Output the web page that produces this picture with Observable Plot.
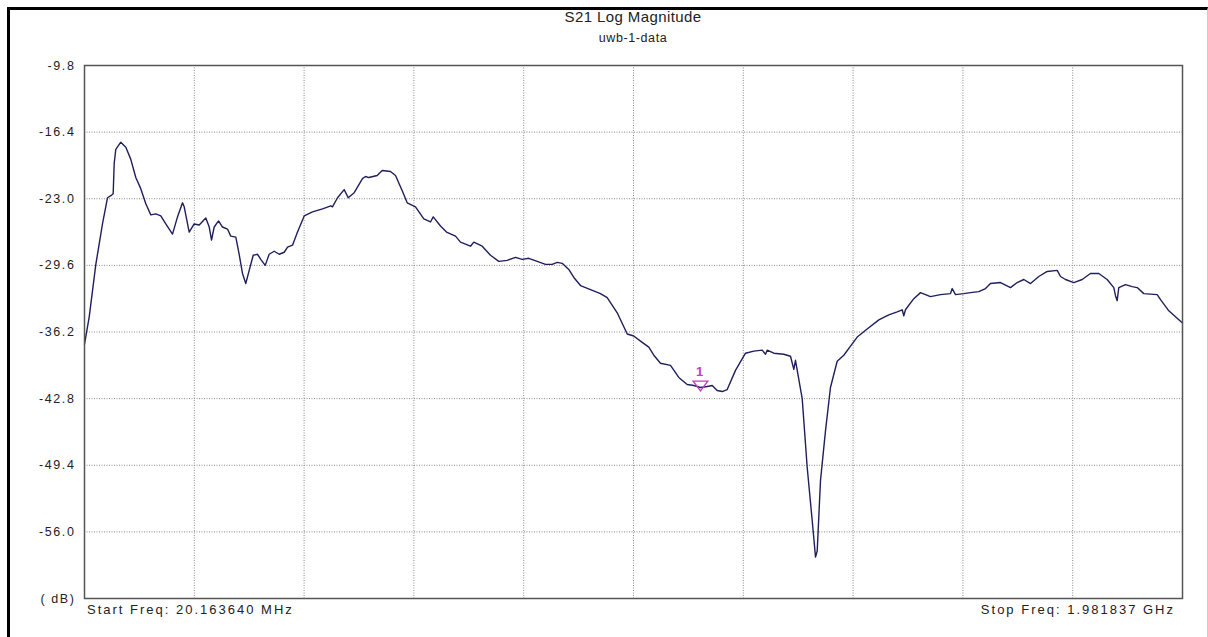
<!DOCTYPE html>
<html>
<head>
<meta charset="utf-8">
<script src="https://cdn.jsdelivr.net/npm/d3@7"></script>
<script src="https://cdn.jsdelivr.net/npm/@observablehq/plot@0.6"></script>
<style>
  html, body { margin: 0; padding: 0; background: #fff; }
  #page { position: relative; width: 1208px; height: 637px; overflow: hidden; font-family: "Liberation Sans", Arial, sans-serif; color: #222; }
  #window { position: absolute; left: 7px; top: 7px; right: 0; bottom: -5px; border-left: 3px solid #000; border-top: 3px solid #000; border-right: 1px solid #ccc; box-sizing: border-box; }
  .title { position: absolute; left: 84px; width: 1098px; text-align: center; white-space: nowrap; }
  #t1 { top: 8px; font-size: 15px; letter-spacing: 0.4px; }
  #t2 { top: 31px; font-size: 12.5px; letter-spacing: 0.6px; }
  #chart { position: absolute; left: 0; top: 50px; }
  .freq { position: absolute; top: 602px; font-size: 13px; letter-spacing: 2px; white-space: nowrap; }
  #start { left: 87px; }
  #stop { right: 33px; }
</style>
</head>
<body>
<div id="page">
  <div id="window"></div>
  <div class="title" id="t1">S21 Log Magnitude</div>
  <div class="title" id="t2">uwb-1-data</div>
  <div id="chart"></div>
  <div class="freq" id="start">Start Freq: 20.163640 MHz</div>
  <div class="freq" id="stop">Stop Freq: 1.981837 GHz</div>
</div>
<script>
// Sweep limits (MHz) and reference scale (dB)
const startFreq = 20.16364;
const stopFreq = 1981.837;
const yTicks = [-9.8, -16.4, -23.0, -29.6, -36.2, -42.8, -49.4, -56.0, -62.6];

// S21 trace: frequency (MHz) and magnitude (dB)
const freqMHz = [
  20.2, 28.6, 40.4, 52.3, 61.3, 67.2, 71.4, 73.2, 76.1, 85.0,
  94.0, 102.9, 111.8, 120.7, 129.7, 138.6, 147.5, 156.5, 165.4, 177.4,
  186.3, 195.3, 198.3, 207.2, 216.1, 225.1, 236.9, 243.0, 247.1, 251.9,
  259.6, 266.7, 275.6, 281.5, 290.5, 296.5, 302.4, 308.3, 314.4, 321.6,
  329.3, 335.1, 343.0, 350.1, 359.1, 368.0, 377.0, 382.9, 391.8, 400.7,
  412.7, 427.5, 445.4, 460.2, 463.2, 472.2, 484.1, 491.3, 502.0, 516.8,
  522.2, 528.1, 543.1, 552.0, 566.9, 575.8, 587.8, 596.7, 611.5, 626.4,
  638.3, 643.2, 656.2, 666.9, 683.0, 691.9, 709.8, 715.7, 730.7, 745.5,
  760.4, 775.4, 790.2, 802.2, 813.9, 828.9, 843.8, 855.7, 864.7, 873.6,
  885.4, 894.4, 906.3, 924.2, 942.0, 954.0, 971.9, 989.8, 1001.5, 1013.5,
  1028.3, 1037.3, 1049.2, 1067.1, 1081.9, 1096.9, 1108.8, 1120.7, 1132.7, 1141.6,
  1150.5, 1159.5, 1168.4, 1183.2, 1201.1, 1216.0, 1231.0, 1236.8, 1239.9, 1251.7,
  1269.5, 1281.5, 1287.4, 1290.4, 1302.4, 1311.3, 1320.3, 1326.2, 1329.2, 1335.1,
  1344.0, 1352.9, 1364.9, 1376.7, 1388.7, 1400.7, 1418.5, 1439.3, 1457.1, 1472.1,
  1481.1, 1483.9, 1486.9, 1501.8, 1513.8, 1531.6, 1549.5, 1567.3, 1570.4, 1576.3,
  1591.1, 1603.1, 1617.9, 1629.9, 1638.8, 1656.7, 1674.6, 1686.5, 1698.3, 1710.3,
  1725.1, 1740.1, 1758.0, 1763.9, 1772.8, 1787.6, 1802.6, 1817.4, 1832.3, 1847.2,
  1859.1, 1862.1, 1865.1, 1868.0, 1880.0, 1891.9, 1900.9, 1912.7, 1936.6, 1942.6,
  1957.4, 1981.8
];
const s21dB = [
  -37.4, -34.7, -29.5, -25.5, -22.9, -22.7, -22.5, -19.5, -18.1, -17.4,
  -17.9, -19.1, -20.9, -22.0, -23.5, -24.6, -24.5, -24.7, -25.5, -26.5,
  -24.8, -23.4, -23.8, -26.3, -25.5, -25.6, -24.9, -25.8, -27.1, -25.8,
  -25.2, -25.8, -26.0, -26.7, -26.8, -28.5, -30.4, -31.4, -30.1, -28.6,
  -28.5, -29.0, -29.6, -28.5, -28.2, -28.5, -28.3, -27.8, -27.6, -26.3,
  -24.7, -24.3, -24.0, -23.7, -23.8, -22.9, -22.1, -22.9, -22.4, -21.0,
  -20.8, -20.9, -20.7, -20.2, -20.3, -20.7, -22.2, -23.4, -23.8, -25.0,
  -25.3, -24.8, -25.7, -26.3, -26.7, -27.3, -27.7, -27.3, -27.7, -28.6,
  -29.2, -29.1, -28.8, -29.0, -28.9, -29.2, -29.5, -29.5, -29.3, -29.4,
  -30.0, -30.8, -31.6, -32.0, -32.4, -32.8, -34.3, -36.4, -36.6, -37.1,
  -37.7, -38.5, -39.3, -39.5, -40.7, -41.4, -41.5, -41.7, -41.6, -41.5,
  -42.0, -42.1, -41.9, -40.0, -38.3, -38.1, -38.0, -38.4, -38.0, -38.3,
  -38.4, -38.6, -39.9, -39.0, -42.8, -49.6, -54.9, -58.5, -57.9, -50.9,
  -46.0, -41.7, -39.1, -38.5, -37.6, -36.7, -35.9, -35.0, -34.5, -34.2,
  -34.0, -34.6, -34.0, -32.9, -32.3, -32.7, -32.5, -32.4, -31.9, -32.5,
  -32.4, -32.3, -32.2, -31.9, -31.4, -31.3, -31.8, -31.3, -31.0, -31.4,
  -30.7, -30.2, -30.1, -30.7, -31.0, -31.3, -31.0, -30.4, -30.4, -31.0,
  -31.8, -32.6, -33.1, -31.8, -31.5, -31.7, -31.8, -32.4, -32.5, -33.0,
  -34.1, -35.3
];

// Marker 1
const markerLabels = ["1"];
const markerFreq = [1120.7];
const markerdB = [-41.7];

const trace = freqMHz.map((f, i) => ({f, db: s21dB[i]}));
const markers = markerLabels.map((label, i) => ({label, f: markerFreq[i], db: markerdB[i]}));

// Ten equal horizontal divisions across the sweep
const xDivs = d3.range(1, 10).map(i => startFreq + i * (stopFreq - startFreq) / 10);

// Downward-pointing marker triangle
const triangleDown = {
  draw(context, size) {
    const h = Math.sqrt(size) / 2;
    context.moveTo(-1.5 * h, -h);
    context.lineTo(1.5 * h, -h);
    context.lineTo(0, h);
    context.closePath();
  }
};

const gridStyle = {stroke: "#8a8a8a", strokeOpacity: 1, strokeWidth: 1, strokeDasharray: "1,1.5"};

const chart = Plot.plot({
  width: 1208,
  height: 587,
  marginLeft: 84,
  marginRight: 26,
  marginTop: 15,
  marginBottom: 39,
  style: {fontFamily: "'Liberation Sans', Arial, sans-serif", fontSize: "12.5px", color: "#222", background: "transparent", letterSpacing: "1.6px"},
  x: {domain: [startFreq, stopFreq], axis: null},
  y: {domain: [yTicks[yTicks.length - 1], yTicks[0]], axis: null},
  marks: [
    Plot.ruleX(xDivs, gridStyle),
    Plot.ruleY(yTicks.slice(1, -1), gridStyle),
    Plot.axisY({
      ticks: yTicks,
      tickSize: 0,
      tickPadding: 9,
      tickFormat: d => d === yTicks[yTicks.length - 1] ? "( dB)" : d.toFixed(1),
      label: null
    }),
    Plot.line(trace, {x: "f", y: "db", stroke: "#1f1f5c", strokeWidth: 1.4, curve: "linear"}),
    Plot.dot(markers, {x: "f", y: "db", symbol: triangleDown, r: 5.5, stroke: "#c040c0", strokeWidth: 1.4, fill: "none", dy: -1.5}),
    Plot.text(markers, {x: "f", y: "db", text: "label", fill: "#c040c0", fontWeight: "bold", fontSize: 13, letterSpacing: 0, dy: -16}),
    Plot.frame({stroke: "#555", strokeWidth: 1.5})
  ]
});

document.getElementById("chart").appendChild(chart);
</script>
</body>
</html>
